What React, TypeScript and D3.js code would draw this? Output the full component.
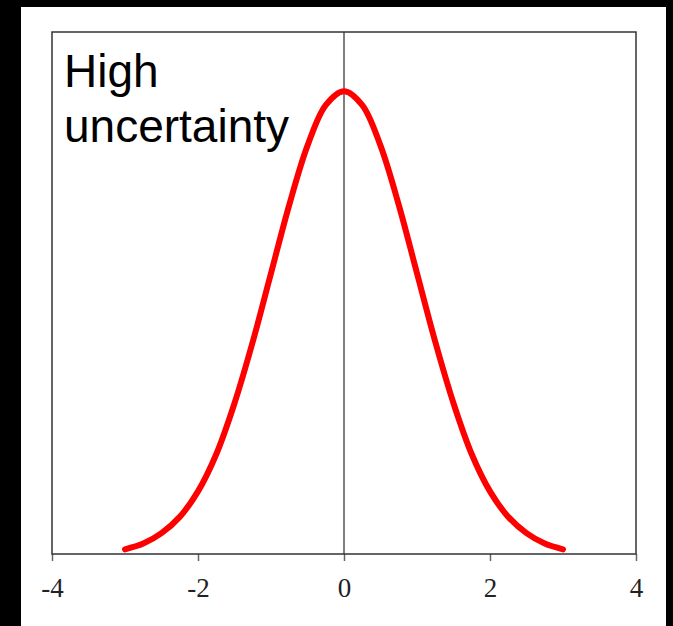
import React, { useEffect, useRef } from 'react'
import * as d3 from 'd3'

// values (density vs. x)
const xValues = [-3, -2.75, -2.5, -2.25, -2, -1.75, -1.5, -1.25, -1, -0.75, -0.5, -0.25, 0,
  0.25, 0.5, 0.75, 1, 1.25, 1.5, 1.75, 2, 2.25, 2.5, 2.75, 3]
const yValues = [0.004, 0.009, 0.018, 0.032, 0.054, 0.086, 0.13, 0.183, 0.242, 0.301, 0.352, 0.387, 0.399,
  0.387, 0.352, 0.301, 0.242, 0.183, 0.13, 0.086, 0.054, 0.032, 0.018, 0.009, 0.004]
const xTicks = [-4, -2, 0, 2, 4]
const labelLines = ['High', 'uncertainty']

export default function App() {
  const ref = useRef<SVGSVGElement>(null)

  useEffect(() => {
    const svg = d3.select(ref.current)
    svg.selectAll('*').remove()

    const left = 52, right = 636, top = 32, bottom = 554

    const xScale = d3.scaleLinear().domain([-4, 4]).range([left, right])
    const yScale = d3.scaleLinear().domain([0, 0.45]).range([bottom, top])

    // black page and white panel
    svg.append('rect').attr('width', 673).attr('height', 626).attr('fill', '#000')
    svg.append('rect').attr('x', 21).attr('y', 7).attr('width', 645).attr('height', 619).attr('fill', '#fff')

    // x axis ticks and labels
    const axis = svg.append('g')
      .attr('transform', 'translate(0,' + bottom + ')')
      .call(d3.axisBottom(xScale).tickValues(xTicks).tickSize(7).tickPadding(17).tickFormat((d) => String(d)))
    axis.select('.domain').remove()
    axis.selectAll('line').attr('stroke', '#666').attr('stroke-width', 1.5)
    axis.selectAll('text')
      .attr('fill', '#222')
      .style('font-family', '"Liberation Serif", "DejaVu Serif", serif')
      .style('font-size', '27px')

    // vertical line at zero
    svg.append('line')
      .attr('x1', xScale(0)).attr('x2', xScale(0))
      .attr('y1', top).attr('y2', bottom)
      .attr('stroke', '#555').attr('stroke-width', 1.5)

    // frame
    svg.append('rect')
      .attr('x', left).attr('y', top)
      .attr('width', right - left).attr('height', bottom - top)
      .attr('fill', 'none').attr('stroke', '#333').attr('stroke-width', 1.5)

    // the curve
    const pts: [number, number][] = xValues.map((x, i) => [x, yValues[i]])
    const line = d3.line<[number, number]>()
      .x((d) => xScale(d[0]))
      .y((d) => yScale(d[1]))
      .curve(d3.curveCatmullRom)
    svg.append('path')
      .datum(pts)
      .attr('d', line)
      .attr('fill', 'none')
      .attr('stroke', '#ff0000')
      .attr('stroke-width', 6)
      .attr('stroke-linecap', 'round')

    // annotation
    const label = svg.append('text')
      .attr('fill', '#000')
      .style('font-family', '"Liberation Sans", Arial, sans-serif')
      .style('font-size', '46px')
    labelLines.forEach((t, i) => {
      label.append('tspan').attr('x', 64).attr('y', 87 + i * 55).text(t)
    })
  }, [])

  return (
    <svg ref={ref} width={673} height={626} style={{ position: 'absolute', left: 0, top: 0, display: 'block' }} />
  )
}
